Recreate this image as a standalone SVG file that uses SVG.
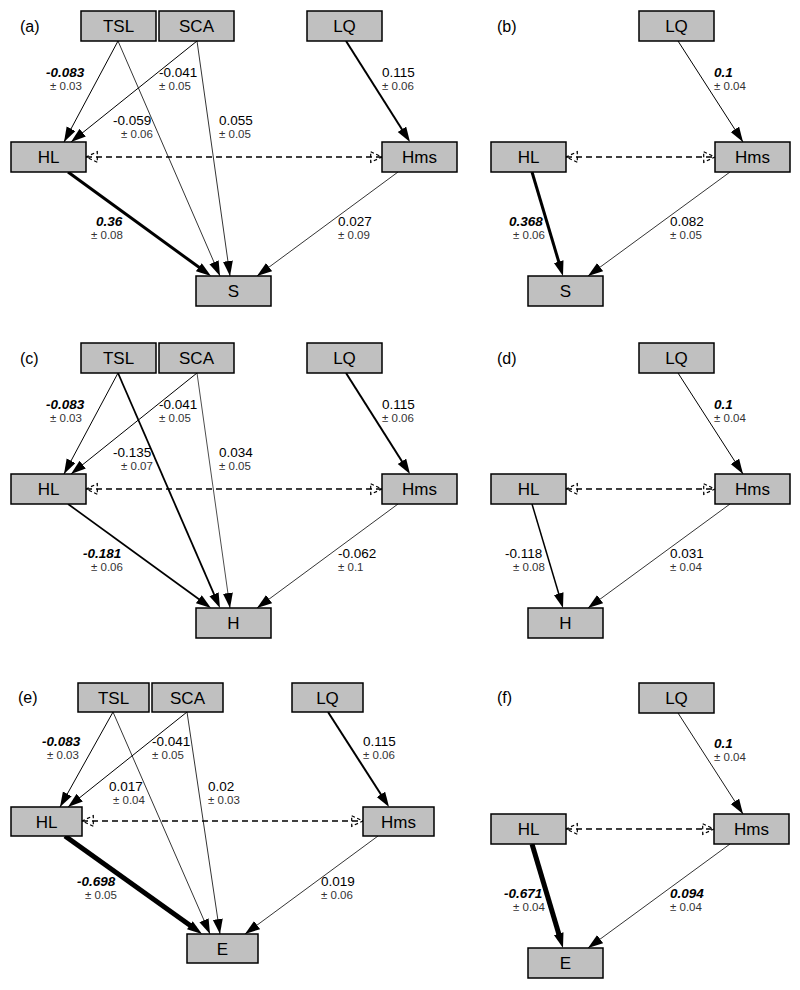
<svg xmlns="http://www.w3.org/2000/svg" width="800" height="990" viewBox="0 0 800 990">
<style>
.box{fill:#C0C0C0;stroke:#000;stroke-width:1.5}
.nl{font-family:"Liberation Sans",Arial,sans-serif;font-size:17px;text-anchor:middle;fill:#000}
.pl{font-family:"Liberation Sans",Arial,sans-serif;font-size:16px;fill:#000}
.n{font-family:"Liberation Sans",Arial,sans-serif;font-size:13.5px;fill:#000}
.b{font-family:"Liberation Sans",Arial,sans-serif;font-size:13.5px;font-weight:bold;font-style:italic;fill:#000}
.e{font-family:"Liberation Sans",Arial,sans-serif;font-size:11.5px;fill:#333}
.ed{fill:none;stroke:#000;stroke-linecap:butt}
.t{stroke-width:1;marker-end:url(#ah)}
.vt{stroke-width:0.8;marker-end:url(#ah)}
.k{marker-end:url(#ahT)}
.d{stroke-width:1.3;stroke-dasharray:6 4;marker-start:url(#oh);marker-end:url(#oh)}
</style>
<defs>
<marker id="ah" markerUnits="userSpaceOnUse" markerWidth="16" markerHeight="11" refX="15" refY="5" orient="auto"><path d="M0,0 L15,5 L0,10 z" fill="#000"/></marker>
<marker id="ahT" markerUnits="userSpaceOnUse" markerWidth="16" markerHeight="11" refX="7" refY="5" orient="auto"><path d="M0,0 L15,5 L0,10 z" fill="#000"/></marker>
<marker id="oh" markerUnits="userSpaceOnUse" markerWidth="14" markerHeight="13" refX="12" refY="6" orient="auto-start-reverse"><path d="M0.7,0.7 L12,6 L0.7,11.3 z" fill="none" stroke="#000" stroke-width="1.2" stroke-dasharray="3.5 2.5"/></marker>
</defs>
<rect width="800" height="990" fill="#fff"/>

<!-- Panel a -->
<g id="panel-a">
<text class="pl" x="20" y="32">(a)</text>
<g id="a-edges">
<path class="ed t" d="M118,41 L64,142"/>
<path class="ed vt" d="M118,41 L220,276"/>
<path class="ed t" d="M197,41 L71,142"/>
<path class="ed vt" d="M197,41 L230,276"/>
<path class="ed k" stroke-width="2" d="M346,41 L405.7,135.2"/>
<path class="ed k" stroke-width="3" d="M68,172 L204.5,271.3"/>
<path class="ed vt" d="M398,172 L257,276"/>
<path class="ed d" d="M86,157 L382,157"/>
</g>
<g id="a-TSL"><rect class="box" x="81" y="11" width="75" height="30"/><text class="nl" x="118.5" y="32">TSL</text></g>
<g id="a-SCA"><rect class="box" x="159" y="11" width="75" height="30"/><text class="nl" x="196.5" y="32">SCA</text></g>
<g id="a-LQ"><rect class="box" x="307" y="11" width="75" height="30"/><text class="nl" x="344.5" y="32">LQ</text></g>
<g id="a-HL"><rect class="box" x="11" y="142" width="75" height="30"/><text class="nl" x="48.5" y="163">HL</text></g>
<g id="a-Hms"><rect class="box" x="382" y="142" width="75" height="30"/><text class="nl" x="419.5" y="163">Hms</text></g>
<g id="a-S"><rect class="box" x="196" y="276" width="75" height="30"/><text class="nl" x="233.5" y="297">S</text></g>
<g id="a-labels">
<text class="b" x="46" y="77">-0.083</text><text class="e" x="50" y="90">± 0.03</text>
<text class="n" x="159" y="77">-0.041</text><text class="e" x="159" y="90">± 0.05</text>
<text class="n" x="113" y="125">-0.059</text><text class="e" x="121" y="138">± 0.06</text>
<text class="n" x="219" y="125">0.055</text><text class="e" x="219" y="138">± 0.05</text>
<text class="n" x="382" y="77">0.115</text><text class="e" x="382" y="90">± 0.06</text>
<text class="b" x="96" y="226">0.36</text><text class="e" x="91" y="239">± 0.08</text>
<text class="n" x="338" y="226">0.027</text><text class="e" x="338" y="239">± 0.09</text>
</g>
</g>

<!-- Panel b -->
<g id="panel-b">
<text class="pl" x="497" y="32">(b)</text>
<g id="b-edges">
<path class="ed t" d="M678,41 L743,142"/>
<path class="ed k" stroke-width="3" d="M532,172 L560.7,268.3"/>
<path class="ed vt" d="M730,172 L588,276"/>
<path class="ed d" d="M566,157 L715,157"/>
</g>
<g id="b-LQ"><rect class="box" x="639" y="11" width="75" height="30"/><text class="nl" x="676.5" y="32">LQ</text></g>
<g id="b-HL"><rect class="box" x="491" y="142" width="75" height="30"/><text class="nl" x="528.5" y="163">HL</text></g>
<g id="b-Hms"><rect class="box" x="715" y="142" width="75" height="30"/><text class="nl" x="752.5" y="163">Hms</text></g>
<g id="b-S"><rect class="box" x="528" y="276" width="75" height="30"/><text class="nl" x="565.5" y="297">S</text></g>
<g id="b-labels">
<text class="b" x="714" y="77">0.1</text><text class="e" x="714" y="90">± 0.04</text>
<text class="b" x="509" y="226">0.368</text><text class="e" x="513" y="239">± 0.06</text>
<text class="n" x="670" y="226">0.082</text><text class="e" x="670" y="239">± 0.05</text>
</g>
</g>

<!-- Panel c -->
<g id="panel-c">
<text class="pl" x="20" y="364">(c)</text>
<g id="c-edges">
<path class="ed t" d="M118,373 L64,474"/>
<path class="ed k" stroke-width="1.8" d="M118,373 L216.8,600.7"/>
<path class="ed t" d="M197,373 L71,474"/>
<path class="ed" stroke-width="0.7" style="marker-end:url(#ah)" d="M197,373 L230,608"/>
<path class="ed k" stroke-width="2" d="M346,373 L405.7,467.2"/>
<path class="ed k" stroke-width="1.7" d="M68,504 L204.5,603.3"/>
<path class="ed vt" d="M398,504 L257,608"/>
<path class="ed d" d="M86,489 L382,489"/>
</g>
<g id="c-TSL"><rect class="box" x="81" y="343" width="75" height="30"/><text class="nl" x="118.5" y="364">TSL</text></g>
<g id="c-SCA"><rect class="box" x="159" y="343" width="75" height="30"/><text class="nl" x="196.5" y="364">SCA</text></g>
<g id="c-LQ"><rect class="box" x="307" y="343" width="75" height="30"/><text class="nl" x="344.5" y="364">LQ</text></g>
<g id="c-HL"><rect class="box" x="11" y="474" width="75" height="30"/><text class="nl" x="48.5" y="495">HL</text></g>
<g id="c-Hms"><rect class="box" x="382" y="474" width="75" height="30"/><text class="nl" x="419.5" y="495">Hms</text></g>
<g id="c-H"><rect class="box" x="196" y="608" width="75" height="30"/><text class="nl" x="233.5" y="629">H</text></g>
<g id="c-labels">
<text class="b" x="46" y="409">-0.083</text><text class="e" x="50" y="422">± 0.03</text>
<text class="n" x="159" y="409">-0.041</text><text class="e" x="159" y="422">± 0.05</text>
<text class="n" x="113" y="457">-0.135</text><text class="e" x="121" y="470">± 0.07</text>
<text class="n" x="219" y="457">0.034</text><text class="e" x="219" y="470">± 0.05</text>
<text class="n" x="382" y="409">0.115</text><text class="e" x="382" y="422">± 0.06</text>
<text class="b" x="83" y="558">-0.181</text><text class="e" x="91" y="571">± 0.06</text>
<text class="n" x="338" y="558">-0.062</text><text class="e" x="338" y="571">± 0.1</text>
</g>
</g>

<!-- Panel d -->
<g id="panel-d">
<text class="pl" x="497" y="364">(d)</text>
<g id="d-edges">
<path class="ed t" d="M678,373 L743,474"/>
<path class="ed k" stroke-width="1.5" d="M532,504 L560.7,600.3"/>
<path class="ed vt" d="M730,504 L588,608"/>
<path class="ed d" d="M566,489 L715,489"/>
</g>
<g id="d-LQ"><rect class="box" x="639" y="343" width="75" height="30"/><text class="nl" x="676.5" y="364">LQ</text></g>
<g id="d-HL"><rect class="box" x="491" y="474" width="75" height="30"/><text class="nl" x="528.5" y="495">HL</text></g>
<g id="d-Hms"><rect class="box" x="715" y="474" width="75" height="30"/><text class="nl" x="752.5" y="495">Hms</text></g>
<g id="d-H"><rect class="box" x="528" y="608" width="75" height="30"/><text class="nl" x="565.5" y="629">H</text></g>
<g id="d-labels">
<text class="b" x="714" y="409">0.1</text><text class="e" x="714" y="422">± 0.04</text>
<text class="n" x="505" y="558">-0.118</text><text class="e" x="513" y="571">± 0.08</text>
<text class="n" x="670" y="558">0.031</text><text class="e" x="670" y="571">± 0.04</text>
</g>
</g>

<!-- Panel e -->
<g id="panel-e">
<text class="pl" x="18" y="703">(e)</text>
<g id="e-edges">
<path class="ed t" d="M113,712 L60,807"/>
<path class="ed vt" d="M113,712 L210,934"/>
<path class="ed t" d="M187,712 L68,807"/>
<path class="ed vt" d="M187,712 L220,934"/>
<path class="ed k" stroke-width="2" d="M328,712 L384.7,800.3"/>
<path class="ed k" stroke-width="5" d="M65,836 L195.5,929.3"/>
<path class="ed vt" d="M378,836 L245,934"/>
<path class="ed d" d="M82,821 L363,821"/>
</g>
<g id="e-TSL"><rect class="box" x="78" y="683" width="71" height="29"/><text class="nl" x="113.5" y="703.5">TSL</text></g>
<g id="e-SCA"><rect class="box" x="152" y="683" width="71" height="29"/><text class="nl" x="187.5" y="703.5">SCA</text></g>
<g id="e-LQ"><rect class="box" x="292" y="683" width="71" height="29"/><text class="nl" x="327.5" y="703.5">LQ</text></g>
<g id="e-HL"><rect class="box" x="11" y="807" width="71" height="29"/><text class="nl" x="46.5" y="827.5">HL</text></g>
<g id="e-Hms"><rect class="box" x="363" y="807" width="71" height="29"/><text class="nl" x="398.5" y="827.5">Hms</text></g>
<g id="e-E"><rect class="box" x="187" y="934" width="71" height="29"/><text class="nl" x="222.5" y="954.5">E</text></g>
<g id="e-labels">
<text class="b" x="42" y="746">-0.083</text><text class="e" x="47" y="759">± 0.03</text>
<text class="n" x="152" y="746">-0.041</text><text class="e" x="152" y="759">± 0.05</text>
<text class="n" x="109" y="791">0.017</text><text class="e" x="113" y="804">± 0.04</text>
<text class="n" x="208" y="791">0.02</text><text class="e" x="208" y="804">± 0.03</text>
<text class="n" x="363" y="746">0.115</text><text class="e" x="363" y="759">± 0.06</text>
<text class="b" x="77" y="886">-0.698</text><text class="e" x="85" y="899">± 0.05</text>
<text class="n" x="321" y="886">0.019</text><text class="e" x="321" y="899">± 0.06</text>
</g>
</g>

<!-- Panel f -->
<g id="panel-f">
<text class="pl" x="497" y="703">(f)</text>
<g id="f-edges">
<path class="ed" stroke-width="0.9" style="marker-end:url(#ah)" d="M678,713 L743,814"/>
<path class="ed k" stroke-width="5" d="M532,844 L560.7,940.3"/>
<path class="ed vt" d="M730,844 L588,948"/>
<path class="ed d" d="M566,829 L714,829"/>
</g>
<g id="f-LQ"><rect class="box" x="639" y="683" width="75" height="30"/><text class="nl" x="676.5" y="704">LQ</text></g>
<g id="f-HL"><rect class="box" x="491" y="814" width="75" height="30"/><text class="nl" x="528.5" y="835">HL</text></g>
<g id="f-Hms"><rect class="box" x="714" y="814" width="75" height="30"/><text class="nl" x="751.5" y="835">Hms</text></g>
<g id="f-E"><rect class="box" x="528" y="948" width="75" height="30"/><text class="nl" x="565.5" y="969">E</text></g>
<g id="f-labels">
<text class="b" x="714" y="748">0.1</text><text class="e" x="714" y="761">± 0.04</text>
<text class="b" x="504" y="898">-0.671</text><text class="e" x="513" y="911">± 0.04</text>
<text class="b" x="670" y="898">0.094</text><text class="e" x="670" y="911">± 0.04</text>
</g>
</g>
</svg>
